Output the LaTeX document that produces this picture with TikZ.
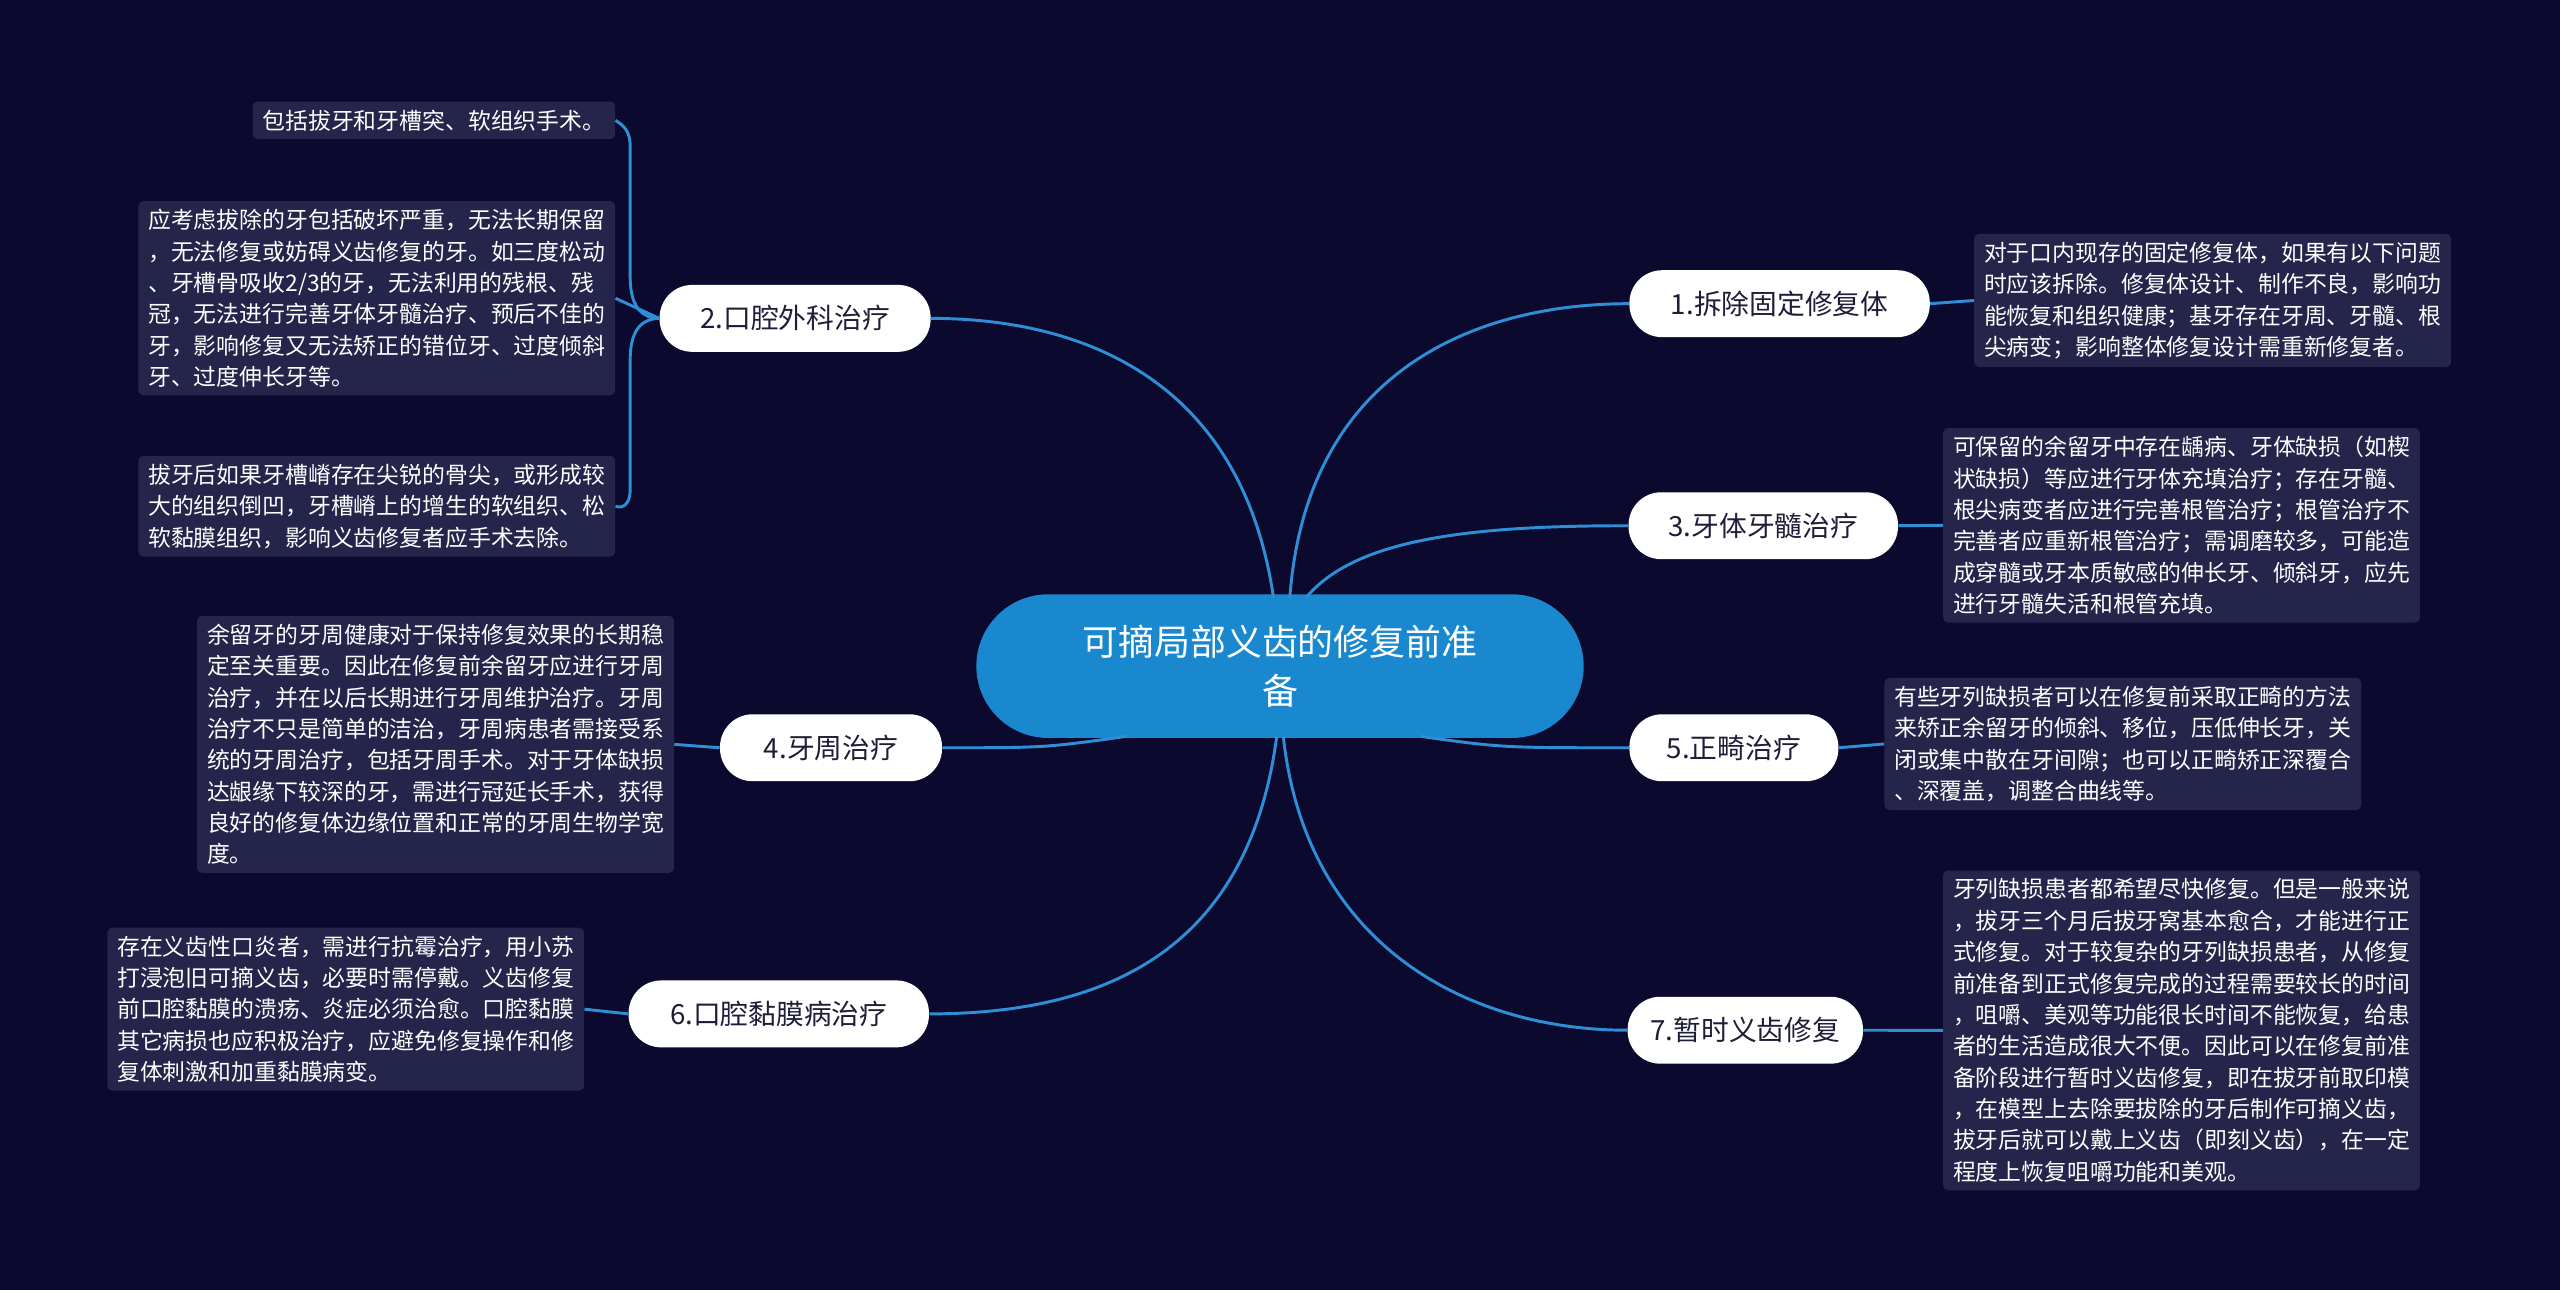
\documentclass[tikz,border=0pt]{standalone}
\usepackage{fontspec}
\setmainfont{Noto Sans CJK SC}
\definecolor{bg}{HTML}{0B0A2E}
\definecolor{leafbg}{HTML}{25244A}
\definecolor{ln}{HTML}{2E8FD6}
\definecolor{cblue}{HTML}{1A88CF}
\definecolor{ptext}{HTML}{1E1E3A}
\tikzset{
 leaf/.style={fill=leafbg,rounded corners=3pt,text=white,align=left,inner xsep=6pt,inner ysep=5pt,font=\fontsize{14}{19.2}\selectfont,anchor=north west},
 pill/.style={fill=white,rounded corners=20pt,text=ptext,minimum height=41pt,font=\fontsize{17}{20}\selectfont,inner xsep=14pt},
 conn/.style={draw=ln,line width=1.8pt},
}
\begin{document}
\begin{tikzpicture}[x=1pt,y=-1pt]
\fill[bg] (0,0) rectangle (1568,790);
\useasboundingbox (0,0) rectangle (1568,790);
\node[fill=cblue,rounded corners=44pt,minimum width=372pt,minimum height=88pt,text=white,align=center,font=\fontsize{22}{30}\selectfont] (c) at (784,408) {可摘局部义齿的修复前准\\备};
\node[pill,minimum width=184pt] (b1) at (1090,186) {1.拆除固定修复体};
\node[pill,minimum width=165pt] (b3) at (1080,322) {3.牙体牙髓治疗};
\node[pill,minimum width=128pt] (b5) at (1062,458) {5.正畸治疗};
\node[pill,minimum width=142pt] (b7) at (1069,631) {7.暂时义齿修复};
\node[pill,minimum width=166pt] (b2) at (487,195) {2.口腔外科治疗};
\node[pill,minimum width=136pt] (b4) at (509,458) {4.牙周治疗};
\node[pill,minimum width=184pt] (b6) at (477,621) {6.口腔黏膜病治疗};
\node[leaf] (l1) at (1209,143) {对于口内现存的固定修复体，如果有以下问题\\时应该拆除。修复体设计、制作不良，影响功\\能恢复和组织健康；基牙存在牙周、牙髓、根\\尖病变；影响整体修复设计需重新修复者。};
\node[leaf] (l3) at (1190,262) {可保留的余留牙中存在龋病、牙体缺损（如楔\\状缺损）等应进行牙体充填治疗；存在牙髓、\\根尖病变者应进行完善根管治疗；根管治疗不\\完善者应重新根管治疗；需调磨较多，可能造\\成穿髓或牙本质敏感的伸长牙、倾斜牙，应先\\进行牙髓失活和根管充填。};
\node[leaf] (l5) at (1154,415) {有些牙列缺损者可以在修复前采取正畸的方法\\来矫正余留牙的倾斜、移位，压低伸长牙，关\\闭或集中散在牙间隙；也可以正畸矫正深覆合\\、深覆盖，调整合曲线等。};
\node[leaf] (l7) at (1190,533) {牙列缺损患者都希望尽快修复。但是一般来说\\，拔牙三个月后拔牙窝基本愈合，才能进行正\\式修复。对于较复杂的牙列缺损患者，从修复\\前准备到正式修复完成的过程需要较长的时间\\，咀嚼、美观等功能很长时间不能恢复，给患\\者的生活造成很大不便。因此可以在修复前准\\备阶段进行暂时义齿修复，即在拔牙前取印模\\，在模型上去除要拔除的牙后制作可摘义齿，\\拔牙后就可以戴上义齿（即刻义齿），在一定\\程度上恢复咀嚼功能和美观。};
\node[leaf,anchor=north east] (l2a) at (377,62) {包括拔牙和牙槽突、软组织手术。};
\node[leaf,anchor=north east] (l2b) at (377,123) {应考虑拔除的牙包括破坏严重，无法长期保留\\，无法修复或妨碍义齿修复的牙。如三度松动\\、牙槽骨吸收2/3的牙，无法利用的残根、残\\冠，无法进行完善牙体牙髓治疗、预后不佳的\\牙，影响修复又无法矫正的错位牙、过度倾斜\\牙、过度伸长牙等。};
\node[leaf,anchor=north east] (l2c) at (377,279) {拔牙后如果牙槽嵴存在尖锐的骨尖，或形成较\\大的组织倒凹，牙槽嵴上的增生的软组织、松\\软黏膜组织，影响义齿修复者应手术去除。};
\node[leaf,anchor=north east] (l4) at (413,377) {余留牙的牙周健康对于保持修复效果的长期稳\\定至关重要。因此在修复前余留牙应进行牙周\\治疗，并在以后长期进行牙周维护治疗。牙周\\治疗不只是简单的洁治，牙周病患者需接受系\\统的牙周治疗，包括牙周手术。对于牙体缺损\\达龈缘下较深的牙，需进行冠延长手术，获得\\良好的修复体边缘位置和正常的牙周生物学宽\\度。};
\node[leaf,anchor=north east] (l6) at (358,568) {存在义齿性口炎者，需进行抗霉治疗，用小苏\\打浸泡旧可摘义齿，必要时需停戴。义齿修复\\前口腔黏膜的溃疡、炎症必须治愈。口腔黏膜\\其它病损也应积极治疗，应避免修复操作和修\\复体刺激和加重黏膜病变。};
\coordinate (ct1) at (790,366); \coordinate (ct3) at (800,366);
\coordinate (ct5) at (870,451); \coordinate (ct7) at (786,451);
\coordinate (ct2) at (780,366); \coordinate (ct4) at (690,451);
\coordinate (ct6) at (782,451);
\draw[conn] (ct1) .. controls (800,230) and (900,186) .. (b1.west);
\draw[conn] (ct3) .. controls (830,330) and (900,322) .. (b3.west);
\draw[conn] (ct5) .. controls (920,458) .. (b5.west);
\draw[conn] (ct7) .. controls (800,580) and (900,631) .. (b7.west);
\draw[conn] (ct2) .. controls (760,230) and (660,195) .. (b2.east);
\draw[conn] (ct4) .. controls (640,458) .. (b4.east);
\draw[conn] (ct6) .. controls (765,580) and (680,621) .. (b6.east);
\draw[conn] (b1.east) -- (l1.west);
\draw[conn] (b3.east) -- (l3.west);
\draw[conn] (b5.east) -- (l5.west);
\draw[conn] (b7.east) -- (l7.west);
\draw[conn] (b4.west) -- (l4.east);
\draw[conn] (b6.west) -- (l6.east);
\draw[conn] (b2.west) .. controls (395,195) and (386,190) .. (386,170) -- (386,90) .. controls (386,80) and (382,77) .. (l2a.east);
\draw[conn] (b2.west) -- (l2b.east);
\draw[conn] (b2.west) .. controls (395,195) and (386,200) .. (386,220) -- (386,300) .. controls (386,308) and (382,312) .. (l2c.east);
\end{tikzpicture}
\end{document}
